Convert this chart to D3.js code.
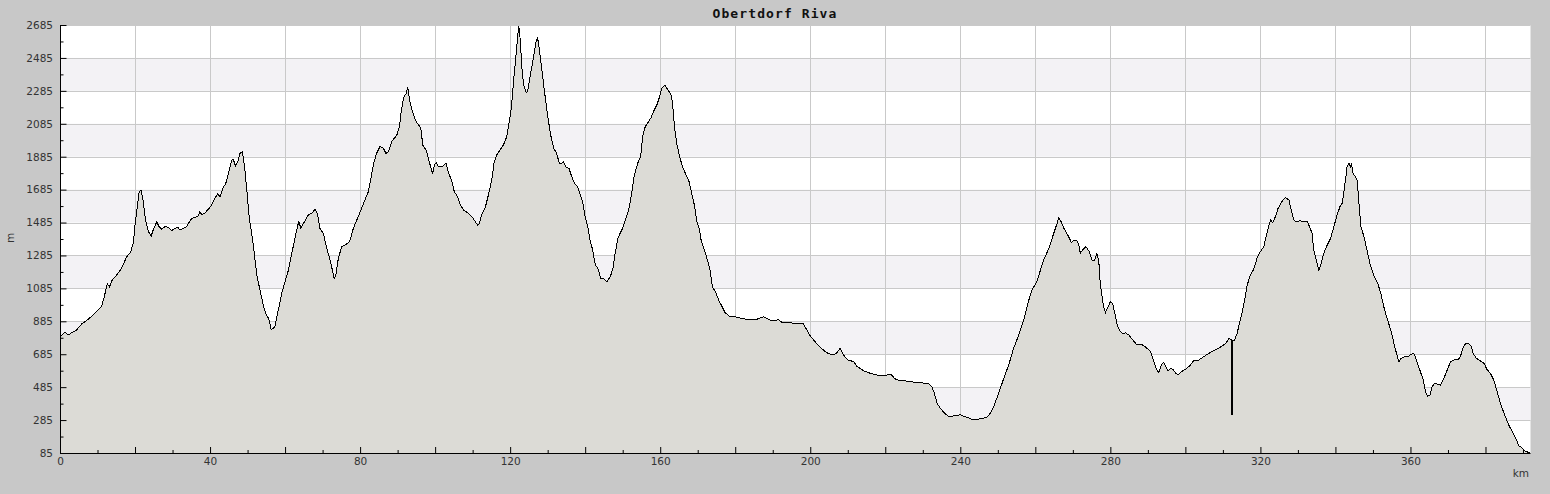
<!DOCTYPE html>
<html>
<head>
<meta charset="utf-8">
<script src="https://cdn.jsdelivr.net/npm/d3@7"></script>
<style>
html,body{margin:0;padding:0;background:#c8c8c8;}
svg{display:block;}
</style>
</head>
<body>
<div id="chart"></div>
<script>
const title = "Obertdorf Riva";
const xLabel = "km";
const yLabel = "m";
const yTicks = [85, 285, 485, 685, 885, 1085, 1285, 1485, 1685, 1885, 2085, 2285, 2485, 2685];
const xTickLabels = [0, 40, 80, 120, 160, 200, 240, 280, 320, 360];

const distKm = [
0,0.27,1.33,2.2,3.1,4.4,5.8,7.6,9.3,11.1,11.8,12.6,13.2,14.0,15.1,16.4,17.8,18.9,19.6,20.0,20.4,21.1,21.6,22.2,22.8,23.6,24.3,24.9,25.8,26.4,27.1,28.0,28.9,29.8,30.7,31.4,32.0,32.9,33.8,34.5,35.1,36.0,36.7,37.3,37.8,38.7,39.6,40.4,41.3,42.0,42.7,43.4,44.2,44.9,45.8,46.2,46.8,47.4,48.0,48.6,49.2,49.8,50.5,51.1,51.7,52.4,53.3,54.2,54.8,55.6,56.3,56.9,57.3,58.2,59.1,60.0,60.9,61.8,62.7,63.4,63.7,64.2,64.9,
66.2,67.1,68.0,68.6,69.3,70.2,71.1,72.0,72.6,73.1,73.6,74.2,75.1,76.0,77.2,78.2,79.3,80.4,81.3,82.2,82.8,83.6,84.4,85.3,86.2,86.9,87.6,88.4,89.8,90.5,90.9,91.6,92.3,92.7,93.2,93.8,94.7,95.6,96.2,96.7,97.6,98.2,98.8,99.3,99.8,100.3,100.9,101.8,102.9,103.6,104.4,105.1,106.0,106.7,107.6,108.9,109.8,110.7,111.3,111.7,112.4,113.3,114.2,115.1,115.7,116.4,117.3,118.2,119.1,119.7,120.3,120.9,121.6,122.0,122.3,122.7,123.1,123.6,124.3,124.7,125.3,126.2,126.8,127.3,127.8,128.4,129.1,129.8,
130.7,131.6,132.4,133.1,133.6,134.2,134.8,135.7,136.4,137.2,138.0,138.7,139.3,140.0,140.7,141.3,142.0,142.7,143.4,144.1,144.9,145.8,146.7,147.4,148.0,148.7,149.3,150.0,150.7,151.6,152.4,153.1,154.0,154.8,155.3,156.0,156.9,157.6,158.2,159.1,159.7,160.4,161.2,161.8,162.4,162.9,163.3,163.8,164.4,165.2,165.8,166.7,167.7,168.4,169.1,169.8,170.4,170.9,171.8,172.7,173.3,173.9,174.7,175.6,176.4,177.3,178.4,180.0,181.8,183.6,185.3,186.4,187.6,188.7,189.8,190.8,191.4,192.4,194.2,195.8,
197.3,198.2,199.1,200.0,201.3,202.7,204.4,206.0,207.1,208.0,208.9,210.0,211.6,212.4,213.3,214.2,216.0,217.8,219.6,220.6,221.5,222.4,223.1,224.9,226.7,228.4,230.2,231.6,232.4,233.1,233.8,234.7,235.7,236.9,238.2,239.6,240.2,240.9,242.2,243.4,244.4,245.8,247.1,248.0,248.9,250.2,251.6,252.9,254.2,255.6,256.9,258.0,259.1,260.4,
261.1,262.2,263.6,264.9,265.8,266.2,266.9,267.6,268.4,269.1,269.6,270.2,271.1,271.6,272.0,272.6,273.5,274.4,275.1,275.8,276.4,276.9,277.3,277.8,278.2,278.7,279.4,280.0,280.6,281.2,281.8,282.4,283.3,284.0,284.9,286.0,287.1,288.3,289.3,290.7,291.6,292.2,292.9,293.6,294.2,294.8,295.4,296.0,296.7,297.3,298.0,298.9,300.0,301.1,302.2,303.6,304.9,306.2,308.0,309.8,310.8,311.6,312.2,312.3,312.45,312.55,313.1,313.8,314.4,315.1,315.8,316.4,317.1,318.2,319.1,319.7,320.9,321.5,322.2,322.7,323.3,324.0,324.7,325.6,
326.0,326.7,327.6,328.2,328.9,329.6,330.5,331.4,332.4,333.1,333.8,334.2,334.9,335.6,336.2,336.9,337.8,338.7,339.6,340.3,341.2,341.8,342.2,342.8,343.1,343.6,344.0,344.3,344.7,345.3,345.8,346.2,346.8,347.6,348.4,349.3,350.2,351.3,352.2,353.1,353.9,354.9,355.7,356.4,356.9,357.5,358.4,359.6,360.3,360.9,361.6,362.5,363.4,364.0,364.6,365.2,365.8,366.4,367.1,368.0,368.9,369.8,370.7,371.6,372.6,373.3,374.0,374.7,375.6,376.2,376.7,377.6,378.5,379.6,380.4,381.3,382.2,383.1,384.0,385.1,386.2,387.4,388.3,388.9,389.5,390.2,390.9,391.8
];

const elevM = [
785,795,818,802,816,832,869,899,933,974,1035,1112,1095,1140,1166,1207,1278,1308,1369,1470,1541,1673,1679,1612,1500,1430,1403,1444,1490,1460,1444,1460,1456,1436,1450,1456,1440,1450,1460,1490,1510,1517,1521,1551,1531,1545,1567,1592,1632,1658,1642,1693,1723,1784,1865,1869,1828,1855,1905,1915,1824,1683,1500,1419,1318,1176,1075,984,933,903,836,842,856,954,1055,1126,1197,1298,1399,1470,1490,1450,1480,
1531,1541,1565,1541,1450,1419,1328,1257,1197,1140,1176,1268,1338,1348,1369,1450,1510,1571,1622,1673,1743,1845,1905,1946,1936,1905,1915,1976,2017,2067,2148,2246,2270,2310,2229,2169,2108,2077,2057,1956,1925,1875,1824,1780,1834,1849,1824,1824,1845,1784,1743,1673,1642,1592,1561,1541,1521,1490,1470,1476,1531,1571,1652,1743,1845,1895,1926,1956,2007,2088,2179,2341,2513,2614,2679,2594,2432,2320,2274,2286,2371,2483,2574,2610,2533,2422,2290,2169,
2027,1936,1905,1845,1841,1855,1824,1814,1764,1723,1703,1652,1612,1521,1460,1379,1318,1227,1207,1146,1146,1126,1156,1207,1298,1389,1419,1450,1500,1561,1662,1774,1845,1885,2007,2067,2098,2124,2158,2199,2240,2300,2320,2300,2280,2260,2209,2067,1966,1885,1834,1784,1733,1662,1592,1490,1450,1379,1318,1247,1197,1095,1065,1014,978,938,917,913,901,897,893,903,913,899,889,887,899,879,877,873,
873,869,832,796,761,725,694,680,694,721,680,650,640,613,599,585,569,559,555,559,565,539,529,524,518,514,510,504,488,447,387,356,330,306,310,316,316,306,300,286,290,294,302,326,366,447,539,620,721,802,893,994,1075,1126,
1176,1257,1328,1419,1480,1515,1490,1450,1419,1389,1363,1375,1375,1348,1298,1318,1338,1308,1257,1257,1294,1257,1116,1035,974,938,974,1004,994,933,863,832,808,816,802,772,741,745,731,701,640,599,573,620,634,609,583,599,593,573,559,579,593,613,646,650,670,690,711,735,751,782,775,316,316,768,771,812,873,933,1014,1095,1156,1201,1268,1298,1338,1399,1460,1500,1484,1521,1571,1606,
1622,1636,1622,1561,1500,1490,1496,1490,1494,1460,1419,1318,1257,1193,1237,1298,1348,1389,1460,1521,1581,1602,1662,1764,1824,1845,1824,1841,1784,1764,1743,1622,1460,1399,1318,1227,1166,1116,1045,954,893,822,741,680,640,660,670,674,686,690,650,589,529,457,431,437,488,508,504,498,539,589,640,650,650,670,721,751,747,735,690,660,646,630,593,569,529,457,387,316,255,204,164,128,120,103,93,87
];

const W = 1550, H = 494;
const m = {left: 60, top: 25, right: 1550 - 1530.5, bottom: 494 - 453};

const svg = d3.select("#chart").append("svg").attr("width", W).attr("height", H)
  .style("font-family", "'DejaVu Sans', sans-serif");

svg.append("rect").attr("width", W).attr("height", H).attr("fill", "#c8c8c8");

const x = d3.scaleLinear().domain([0, 392]).range([m.left, W - m.right]);
const y = d3.scaleLinear().domain([85, 2685]).range([H - m.bottom, m.top]);

const g = svg.append("g");

g.append("rect").attr("x", x(0)).attr("y", y(2685)).attr("width", x(392) - x(0)).attr("height", y(85) - y(2685)).attr("fill", "#ffffff");

const bands = [];
for (let i = 0; i < yTicks.length - 1; i++) {
  if (i % 2 === 1) bands.push([yTicks[i], yTicks[i + 1]]);
}
g.selectAll("rect.band").data(bands).enter().append("rect").attr("class", "band")
  .attr("x", x(0)).attr("width", x(392) - x(0))
  .attr("y", d => y(d[1])).attr("height", d => y(d[0]) - y(d[1]))
  .attr("fill", "#f3f2f5");

const xGrid = d3.range(20, 392, 20);
g.selectAll("line.vg").data(xGrid).enter().append("line")
  .attr("x1", d => Math.round(x(d)) + 0.5).attr("x2", d => Math.round(x(d)) + 0.5)
  .attr("y1", y(2685)).attr("y2", y(85))
  .attr("stroke", "#c9c9c9").attr("stroke-width", 1);
g.selectAll("line.hg").data(yTicks.slice(1)).enter().append("line")
  .attr("x1", x(0)).attr("x2", x(392))
  .attr("y1", d => Math.round(y(d)) + 0.5).attr("y2", d => Math.round(y(d)) + 0.5)
  .attr("stroke", "#c9c9c9").attr("stroke-width", 1);

const pts = distKm.map((d, i) => [d, elevM[i]]);

const area = d3.area().x(d => x(d[0])).y0(y(85)).y1(d => y(d[1]));
const line = d3.line().x(d => x(d[0])).y(d => y(d[1]));

g.append("path").datum(pts).attr("d", area).attr("fill", "#dcdbd6");
g.append("path").datum(pts).attr("d", line).attr("fill", "none").attr("stroke", "#000")
  .attr("stroke-width", 1).attr("shape-rendering", "crispEdges");

const yAxis = d3.axisLeft(y).tickValues(d3.range(85, 2686, 100)).tickSize(-6)
  .tickFormat(d => yTicks.includes(d) ? d : "");
const ya = svg.append("g").attr("transform", `translate(${x(0)},0)`).call(yAxis);
ya.select(".domain").attr("stroke", "#000").attr("d", `M0.5,${y(2685)}V${y(85)}`);
ya.selectAll(".tick line").attr("stroke", "#000").attr("x2", d => yTicks.includes(d) ? 6 : 3).attr("transform", "translate(0.5,0)");
ya.selectAll(".tick text").attr("x", -7).attr("fill", "#333").style("font-size", "10.5px").style("font-family", "'DejaVu Sans', sans-serif");

const xAxis = d3.axisBottom(x).tickValues(d3.range(0, 392, 10)).tickSize(-6)
  .tickFormat(d => xTickLabels.includes(d) ? d : "");
const xa = svg.append("g").attr("transform", `translate(0,${y(85)})`).call(xAxis);
xa.select(".domain").attr("stroke", "#000").attr("d", `M${x(0)},0.5H${x(392)}`);
xa.selectAll(".tick line").attr("stroke", "#000").attr("y2", d => d % 20 === 0 ? -6 : -3);
xa.selectAll(".tick text").attr("y", 5).attr("fill", "#333").style("font-size", "10.5px").style("font-family", "'DejaVu Sans', sans-serif");

svg.append("text").attr("x", 1529).attr("y", 477).attr("text-anchor", "end")
  .attr("fill", "#333").style("font-size", "10.5px").text(xLabel);
svg.append("text").attr("transform", "translate(14,238) rotate(-90)").attr("text-anchor", "middle")
  .attr("fill", "#333").style("font-size", "10.5px").text(yLabel);

svg.append("text").attr("x", 775).attr("y", 18).attr("text-anchor", "middle")
  .style("font-family", "'DejaVu Sans Mono', monospace").style("font-weight", "bold")
  .style("font-size", "13px").style("letter-spacing", "1.1px").attr("fill", "#111").text(title);
</script>
</body>
</html>
